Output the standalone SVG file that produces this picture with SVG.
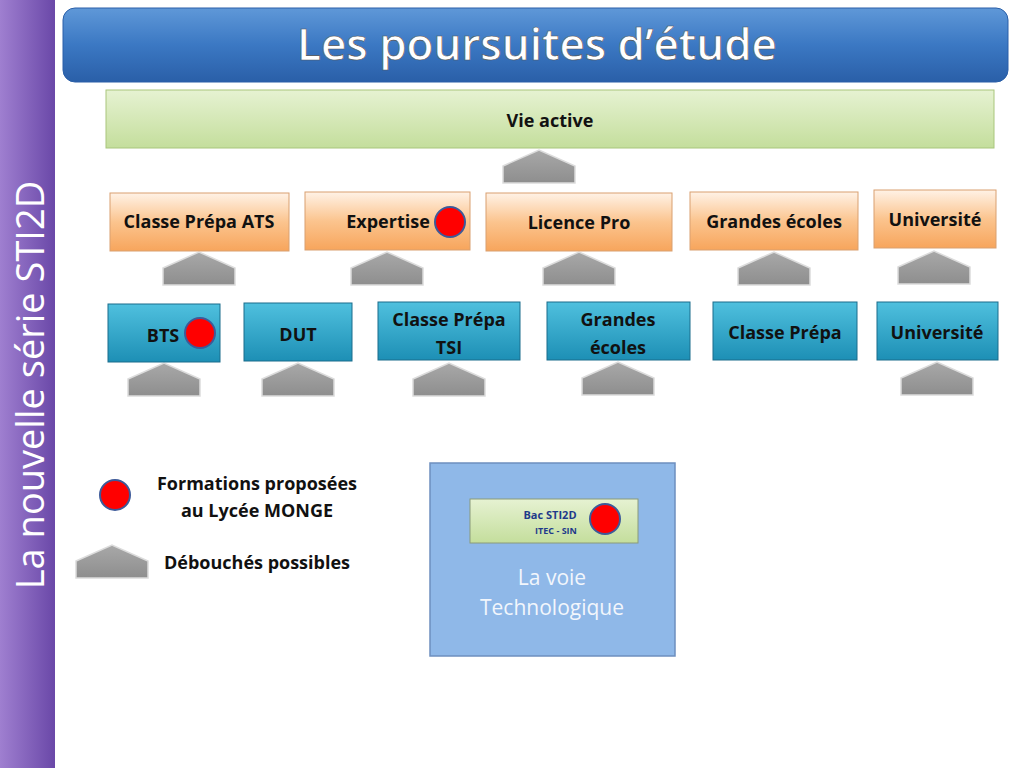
<svg xmlns="http://www.w3.org/2000/svg" width="1024" height="768" viewBox="0 0 1024 768">
<defs>
<linearGradient id="purp" x1="0" y1="0" x2="1" y2="0"><stop offset="0" stop-color="#9f7fd0"/><stop offset="1" stop-color="#6a48a8"/></linearGradient>
<linearGradient id="title" x1="0" y1="0" x2="0" y2="1"><stop offset="0" stop-color="#5f98d8"/><stop offset="0.5" stop-color="#3b78c3"/><stop offset="1" stop-color="#2a5fa8"/></linearGradient>
<linearGradient id="orange" x1="0" y1="0" x2="0" y2="1"><stop offset="0" stop-color="#fff2e6"/><stop offset="0.5" stop-color="#fbc48e"/><stop offset="1" stop-color="#f7a55c"/></linearGradient>
<linearGradient id="blue" x1="0" y1="0" x2="0" y2="1"><stop offset="0" stop-color="#4fc0de"/><stop offset="1" stop-color="#1d8fb5"/></linearGradient>
<linearGradient id="green" x1="0" y1="0" x2="0" y2="1"><stop offset="0" stop-color="#e6f2d2"/><stop offset="1" stop-color="#c4de9c"/></linearGradient>
<linearGradient id="gray" x1="0" y1="0" x2="0" y2="1"><stop offset="0" stop-color="#a8a8a8"/><stop offset="1" stop-color="#8e8e8e"/></linearGradient>
<symbol id="arr" viewBox="0 0 72 33" overflow="visible"><path d="M0,16 L36,0 L72,16 L72,33 L0,33 Z" fill="url(#gray)" stroke="#dcdcdc" stroke-width="1.5"/></symbol>
</defs>
<style>
.t{font-family:"Open Sans","Liberation Sans",sans-serif;font-weight:bold;font-size:18px;fill:#111;text-anchor:middle}
.o{fill:url(#orange);stroke:#d9a070;stroke-width:1}
.b{fill:url(#blue);stroke:#1a6d8c;stroke-width:1}
.dot{fill:#f00;stroke:#3d5a99;stroke-width:2}
</style>
<rect width="1024" height="768" fill="#fff"/>
<rect x="0" y="0" width="55" height="768" fill="url(#purp)"/>
<text transform="translate(44,385) rotate(-90)" font-family="'Open Sans','Liberation Sans',sans-serif" font-size="38" fill="#fff" text-anchor="middle">La nouvelle série STI2D</text>
<g id="title-bar"><rect x="63" y="8" width="945" height="74" rx="12" fill="url(#title)" stroke="#2a5fa8"/>
<text x="537" y="60" font-family="'Open Sans','Liberation Sans',sans-serif" font-size="44" font-weight="600" fill="#fff" stroke="#555" stroke-width="0.6" text-anchor="middle">Les poursuites d’étude</text></g>
<g id="vie-active"><rect x="106" y="90" width="888" height="58" fill="url(#green)" stroke="#a9c67d"/><text class="t" x="550" y="127">Vie active</text></g>
<g id="connectors">
<use href="#arr" x="503" y="150" width="72" height="33"/>
<use href="#arr" x="163" y="252" width="72" height="33"/>
<use href="#arr" x="351" y="252" width="72" height="33"/>
<use href="#arr" x="543" y="252" width="72" height="33"/>
<use href="#arr" x="738" y="252" width="72" height="33"/>
<use href="#arr" x="898" y="251" width="72" height="33"/>
<use href="#arr" x="128" y="363" width="72" height="33"/>
<use href="#arr" x="262" y="363" width="72" height="33"/>
<use href="#arr" x="413" y="363" width="72" height="33"/>
<use href="#arr" x="582" y="362" width="72" height="33"/>
<use href="#arr" x="901" y="362" width="72" height="33"/>
</g>
<g id="ats"><rect class="o" x="110" y="193" width="179" height="58"/><text class="t" x="199" y="228">Classe Prépa ATS</text></g>
<g id="expertise"><rect class="o" x="305" y="192" width="165" height="58"/><text class="t" x="388" y="228">Expertise</text><circle class="dot" cx="450" cy="222" r="15"/></g>
<g id="licence"><rect class="o" x="486" y="193" width="186" height="58"/><text class="t" x="579" y="229">Licence Pro</text></g>
<g id="ge1"><rect class="o" x="690" y="192" width="168" height="58"/><text class="t" x="774" y="228">Grandes écoles</text></g>
<g id="univ1"><rect class="o" x="874" y="190" width="122" height="58"/><text class="t" x="935" y="226">Université</text></g>
<g id="bts"><rect class="b" x="108" y="304" width="112" height="58"/><text class="t" x="163" y="342" font-size="20">BTS</text><circle class="dot" cx="200" cy="333" r="15"/></g>
<g id="dut"><rect class="b" x="244" y="303" width="108" height="58"/><text class="t" x="298" y="341" font-size="20">DUT</text></g>
<g id="tsi"><rect class="b" x="378" y="302" width="142" height="58"/><text class="t" x="449" y="326">Classe Prépa</text><text class="t" x="449" y="354">TSI</text></g>
<g id="ge2"><rect class="b" x="547" y="302" width="143" height="58"/><text class="t" x="618" y="326">Grandes</text><text class="t" x="618" y="354">écoles</text></g>
<g id="prepa"><rect class="b" x="713" y="302" width="144" height="58"/><text class="t" x="785" y="339">Classe Prépa</text></g>
<g id="univ2"><rect class="b" x="877" y="302" width="121" height="58"/><text class="t" x="937" y="339">Université</text></g>
<g id="legend">
<circle class="dot" cx="115" cy="495" r="15"/>
<text class="t" x="257" y="490">Formations proposées</text><text class="t" x="257" y="517">au Lycée MONGE</text>
<use href="#arr" x="76" y="545" width="72" height="33"/>
<text class="t" x="257" y="569">Débouchés possibles</text>
</g>
<g id="voie"><rect x="430" y="463" width="245" height="193" fill="#8fb8e8" stroke="#6d8fbf" stroke-width="1.5"/>
<text x="552" y="585" font-family="'Open Sans','Liberation Sans',sans-serif" font-size="21" fill="#f2f6fc" text-anchor="middle">La voie</text>
<text x="552" y="615" font-family="'Open Sans','Liberation Sans',sans-serif" font-size="21" fill="#f2f6fc" text-anchor="middle">Technologique</text></g>
<g id="bac"><rect x="470" y="499" width="168" height="44" fill="url(#green)" stroke="#8a9a7a"/>
<text x="550" y="519" font-family="'Open Sans','Liberation Sans',sans-serif" font-weight="bold" font-size="11" fill="#1f3a8a" text-anchor="middle">Bac STI2D</text>
<text x="556" y="534" font-family="'Open Sans','Liberation Sans',sans-serif" font-weight="bold" font-size="9" fill="#1f3a8a" text-anchor="middle">ITEC  - SIN</text>
<circle class="dot" cx="605" cy="519" r="15"/></g>
</svg>
